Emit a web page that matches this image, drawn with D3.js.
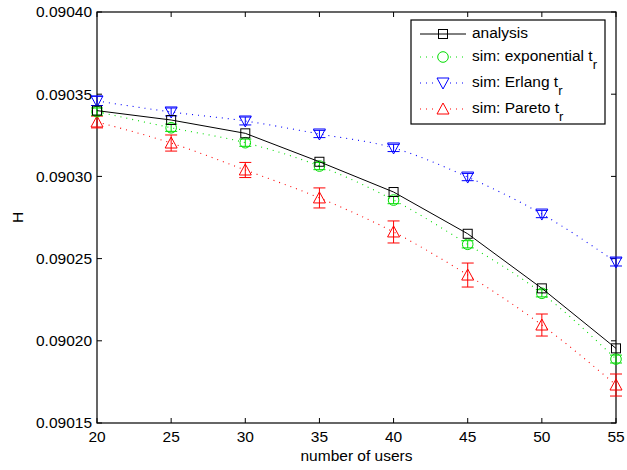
<!DOCTYPE html>
<html>
<head>
<meta charset="utf-8">
<script src="https://cdn.jsdelivr.net/npm/d3@7"></script>
<style>
  html, body { margin: 0; padding: 0; background: #fff; }
  svg text { font-family: "Liberation Sans", Arial, Helvetica, sans-serif; fill: #000; }
</style>
</head>
<body>
<svg id="chart" width="627" height="470"></svg>
<script>
// Number of users on the x axis
const users = [20, 25, 30, 35, 40, 45, 50, 55];

// Analytical H
const analysis = [0.0903400, 0.0903343, 0.0903262, 0.0903089, 0.0902905, 0.0902651, 0.0902319, 0.0901954];

// Simulated H with confidence half-widths
const simExponential = [0.0903394, 0.0903296, 0.0903205, 0.0903063, 0.0902856, 0.0902587, 0.0902289, 0.0901889];
const errExponential = [0.0000022, 0.0000022, 0.0000022, 0.0000022, 0.0000022, 0.0000022, 0.0000022, 0.0000024];

const simErlang = [0.0903459, 0.0903392, 0.0903337, 0.0903258, 0.0903173, 0.0902996, 0.0902771, 0.0902479];
const errErlang = [0.0000028, 0.0000024, 0.0000024, 0.0000022, 0.0000022, 0.0000022, 0.0000022, 0.0000024];

const simPareto = [0.0903331, 0.0903203, 0.0903039, 0.0902869, 0.0902662, 0.0902400, 0.0902096, 0.0901731];
const errPareto = [0.0000036, 0.0000049, 0.0000046, 0.0000061, 0.0000067, 0.0000073, 0.0000067, 0.0000067];

const xTicks = [20, 25, 30, 35, 40, 45, 50, 55];
const yTicks = [0.09015, 0.09020, 0.09025, 0.09030, 0.09035, 0.09040];

const svg = d3.select("#chart");
const L = 97, R = 616, T = 12, B = 423;

const x = d3.scaleLinear().domain([20, 55]).range([L, R]);
const y = d3.scaleLinear().domain([0.09015, 0.09040]).range([B, T]);

// Axes box with inward ticks on all four sides
const tickLen = 5;
const axisG = svg.append("g");
axisG.append("rect")
  .attr("x", L).attr("y", T).attr("width", R - L).attr("height", B - T)
  .attr("fill", "none").attr("stroke", "#000").attr("stroke-width", 1.2);

xTicks.forEach(t => {
  axisG.append("line").attr("x1", x(t)).attr("x2", x(t)).attr("y1", B).attr("y2", B - tickLen)
    .attr("stroke", "#000");
  axisG.append("line").attr("x1", x(t)).attr("x2", x(t)).attr("y1", T).attr("y2", T + tickLen)
    .attr("stroke", "#000");
  axisG.append("text").attr("x", x(t)).attr("y", B + 19)
    .attr("text-anchor", "middle").attr("font-size", 15.5).text(t);
});
yTicks.forEach(t => {
  axisG.append("line").attr("x1", L).attr("x2", L + tickLen).attr("y1", y(t)).attr("y2", y(t))
    .attr("stroke", "#000");
  axisG.append("line").attr("x1", R).attr("x2", R - tickLen).attr("y1", y(t)).attr("y2", y(t))
    .attr("stroke", "#000");
  axisG.append("text").attr("x", L - 5).attr("y", y(t)).attr("dy", "0.35em")
    .attr("text-anchor", "end").attr("font-size", 15.5).text(d3.format(".5f")(t));
});

svg.append("text").attr("x", (L + R) / 2).attr("y", 461)
  .attr("text-anchor", "middle").attr("font-size", 15.5).text("number of users");
svg.append("text").attr("transform", `translate(23,${(T + B) / 2}) rotate(-90)`)
  .attr("text-anchor", "middle").attr("font-size", 15.5).text("H");

// Marker shapes
function drawMarker(g, kind, cx, cy, color) {
  if (kind === "square") {
    g.append("rect").attr("x", cx - 4.5).attr("y", cy - 4.5).attr("width", 9).attr("height", 9)
      .attr("fill", "none").attr("stroke", color).attr("stroke-width", 1);
  } else if (kind === "circle") {
    g.append("circle").attr("cx", cx).attr("cy", cy).attr("r", 5.3)
      .attr("fill", "none").attr("stroke", color).attr("stroke-width", 1);
  } else if (kind === "down") {
    g.append("path").attr("d", `M${cx - 6},${cy - 5} L${cx + 6},${cy - 5} L${cx},${cy + 6} Z`)
      .attr("fill", "none").attr("stroke", color).attr("stroke-width", 1);
  } else if (kind === "up") {
    g.append("path").attr("d", `M${cx - 6},${cy + 5} L${cx + 6},${cy + 5} L${cx},${cy - 6} Z`)
      .attr("fill", "none").attr("stroke", color).attr("stroke-width", 1);
  }
}

const line = d3.line().x((d, i) => x(users[i])).y(d => y(d)).curve(d3.curveMonotoneX);

const series = [
  { vals: simPareto, err: errPareto, color: "#ff0000", marker: "up" },
  { vals: simErlang, err: errErlang, color: "#0000ff", marker: "down" },
  { vals: simExponential, err: errExponential, color: "#00dd00", marker: "circle" }
];

const plotG = svg.append("g");
series.forEach(s => {
  plotG.append("path").attr("d", line(s.vals)).attr("fill", "none")
    .attr("stroke", s.color).attr("stroke-width", 1.1).attr("stroke-dasharray", "1,5");
  s.vals.forEach((v, i) => {
    const cx = x(users[i]);
    const y1 = y(v - s.err[i]), y2 = y(v + s.err[i]);
    const capHalf = 6;
    plotG.append("line").attr("x1", cx).attr("x2", cx).attr("y1", y1).attr("y2", y2)
      .attr("stroke", s.color);
    plotG.append("line").attr("x1", cx - capHalf).attr("x2", cx + capHalf).attr("y1", y1).attr("y2", y1)
      .attr("stroke", s.color);
    plotG.append("line").attr("x1", cx - capHalf).attr("x2", cx + capHalf).attr("y1", y2).attr("y2", y2)
      .attr("stroke", s.color);
    drawMarker(plotG, s.marker, cx, y(v), s.color);
  });
});

// Analytical curve: straight segments
plotG.append("path").attr("d", d3.line().x((d, i) => x(users[i])).y(d => y(d))(analysis))
  .attr("fill", "none").attr("stroke", "#000").attr("stroke-width", 1);
analysis.forEach((v, i) => drawMarker(plotG, "square", x(users[i]), y(v), "#000"));

// Legend
const lg = svg.append("g");
lg.append("rect").attr("x", 411).attr("y", 20).attr("width", 194).attr("height", 104)
  .attr("fill", "#fff").attr("stroke", "#000").attr("stroke-width", 1.2);

const legendItems = [
  { label: "analysis", sub: null, color: "#000", marker: "square", dash: null, yy: 34 },
  { label: "sim: exponential t", sub: "r", color: "#00dd00", marker: "circle", dash: "1,5", yy: 57 },
  { label: "sim: Erlang t", sub: "r", color: "#0000ff", marker: "down", dash: "1,5", yy: 83 },
  { label: "sim: Pareto t", sub: "r", color: "#ff0000", marker: "up", dash: "1,5", yy: 109 }
];
legendItems.forEach(it => {
  const ln = lg.append("line").attr("x1", 420).attr("x2", 466).attr("y1", it.yy).attr("y2", it.yy)
    .attr("stroke", it.color).attr("stroke-width", it.dash ? 1.1 : 1);
  if (it.dash) ln.attr("stroke-dasharray", it.dash);
  if (it.dash) lg.append("rect").attr("x", 436).attr("y", it.yy - 7).attr("width", 14).attr("height", 14).attr("fill", "#fff");
  drawMarker(lg, it.marker, 443, it.yy, it.color);
  const t = lg.append("text").attr("x", 472).attr("y", it.yy - 1).attr("dy", "0.35em")
    .attr("font-size", 15.5).text(it.label);
  if (it.sub) {
    t.append("tspan").attr("dy", 8).attr("font-size", 13).text(it.sub);
  }
});
</script>
</body>
</html>
